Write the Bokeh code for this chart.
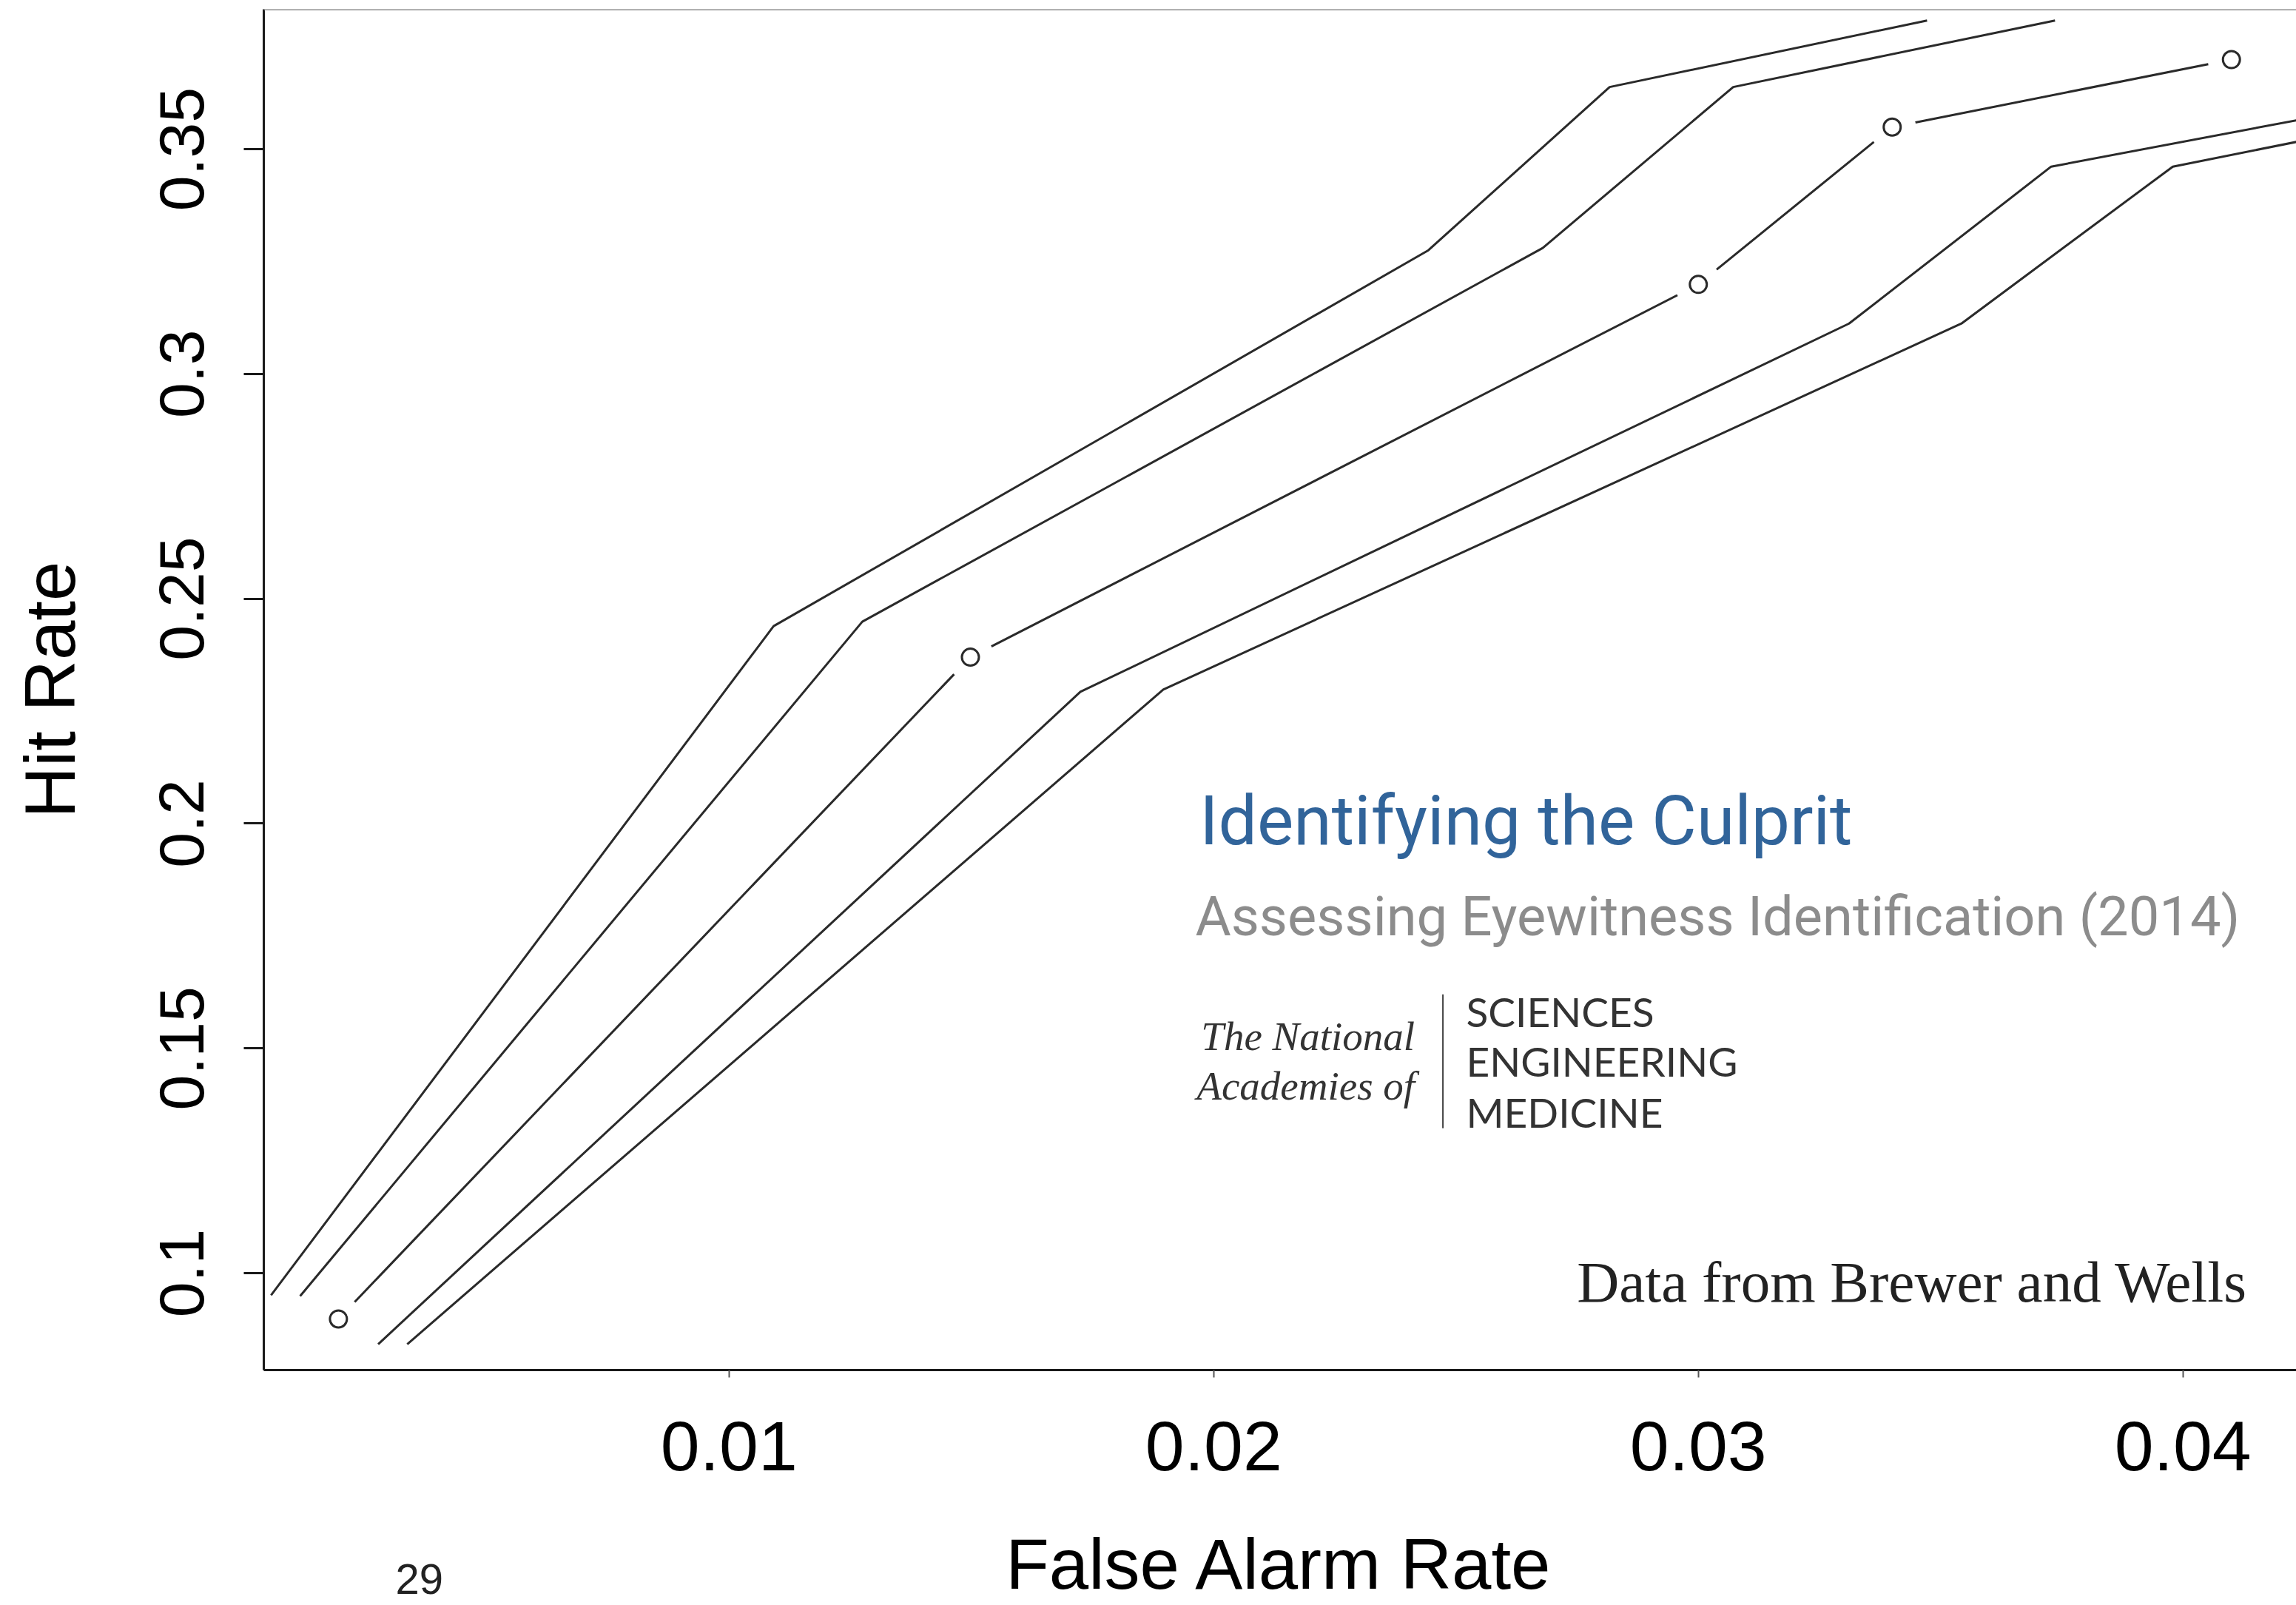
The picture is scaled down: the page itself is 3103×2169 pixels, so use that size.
import math
from bokeh.plotting import figure
from bokeh.models import Range1d, FixedTicker, Span, Label, Title
from bokeh.embed import file_html
from bokeh.resources import INLINE

# ---------------- data ----------------
upper_outer_x = [0.00055, 0.01092, 0.02443, 0.02817, 0.03472]
upper_outer_y = [0.0951, 0.2439, 0.3275, 0.3638, 0.3786]
upper_inner_x = [0.00115, 0.01275, 0.02679, 0.03072, 0.03736]
upper_inner_y = [0.0949, 0.2449, 0.3280, 0.3638, 0.3786]
roc_x = [0.00194, 0.01498, 0.0300, 0.0340, 0.0410]
roc_y = [0.0898, 0.2370, 0.3199, 0.3549, 0.3699]
lower_inner_x = [0.00276, 0.01725, 0.03311, 0.03728, 0.04234]
lower_inner_y = [0.0842, 0.2293, 0.3112, 0.3461, 0.3564]
lower_outer_x = [0.00336, 0.01896, 0.03543, 0.03979, 0.04234]
lower_outer_y = [0.0842, 0.2298, 0.3112, 0.3461, 0.3516]

x_ticks = [0.01, 0.02, 0.03, 0.04]
x_tick_labels = ["0.01", "0.02", "0.03", "0.04"]
y_ticks = [0.1, 0.15, 0.2, 0.25, 0.3, 0.35]
y_tick_labels = ["0.1", "0.15", "0.2", "0.25", "0.3", "0.35"]

x_title = "False Alarm Rate"
y_title = "Hit Rate"
page_number = "29"

# ---------------- figure ----------------
X0, X1 = 0.00040, 0.04234
Y0, Y1 = 0.07845, 0.3811

p = figure(width=3103, height=2169, output_backend="svg", toolbar_location=None,
           x_range=Range1d(X0, X1), y_range=Range1d(Y0, Y1),
           min_border_left=356, min_border_right=0, min_border_top=12,
           min_border_bottom=317)
p.grid.visible = False
p.outline_line_color = None
p.background_fill_color = "white"
p.border_fill_color = "white"

LINE = "#2a2a2a"

# top border of the box
p.add_layout(Span(location=Y1, dimension="width", line_color="#8a8a8a", line_width=3))

# x axis
xa = p.xaxis[0]
xa.ticker = FixedTicker(ticks=x_ticks)
xa.major_label_overrides = dict(zip(x_ticks, x_tick_labels))
xa.minor_tick_line_color = None
xa.major_tick_in = 0
xa.major_tick_out = 10
xa.major_tick_line_width = 2
xa.major_tick_line_color = "#555555"
xa.axis_line_width = 3
xa.axis_line_color = "#1a1a1a"
xa.major_label_text_font = "Liberation Sans"
xa.major_label_text_font_size = "95px"
xa.major_label_text_color = "black"
xa.major_label_standoff = 60
xa.axis_label = x_title
xa.axis_label_text_font = "Liberation Sans"
xa.axis_label_text_font_size = "96px"
xa.axis_label_text_font_style = "normal"
xa.axis_label_text_color = "black"
xa.axis_label_standoff = 70

# y axis
ya = p.yaxis[0]
ya.ticker = FixedTicker(ticks=y_ticks)
ya.major_label_overrides = dict(zip(y_ticks, y_tick_labels))
ya.minor_tick_line_color = None
ya.major_tick_in = 0
ya.major_tick_out = 27
ya.major_tick_line_width = 3
ya.major_tick_line_color = "#1a1a1a"
ya.axis_line_width = 3
ya.axis_line_color = "#1a1a1a"
ya.major_label_orientation = "parallel"
ya.major_label_text_font = "Liberation Sans"
ya.major_label_text_font_size = "86px"
ya.major_label_text_color = "black"
ya.major_label_standoff = 54
ya.axis_label = y_title
ya.axis_label_text_font = "Liberation Sans"
ya.axis_label_text_font_size = "96px"
ya.axis_label_text_font_style = "normal"
ya.axis_label_text_color = "black"
ya.axis_label_standoff = 93

# ---------------- curves ----------------
# central ROC line with open circles (lines broken around the points)
p.line(roc_x, roc_y, line_color=LINE, line_width=3)
p.scatter(roc_x, roc_y, marker="circle", size=64, fill_color="white", line_color=None)
p.scatter(roc_x, roc_y, marker="circle", size=23, fill_color="white",
          line_color=LINE, line_width=3)

for xs, ys in [(upper_outer_x, upper_outer_y), (upper_inner_x, upper_inner_y),
               (lower_inner_x, lower_inner_y), (lower_outer_x, lower_outer_y)]:
    p.line(xs, ys, line_color=LINE, line_width=3)

# ---------------- overlaid report banner ----------------
SANS = "Roboto"
p.add_layout(Label(x=0.01971, y=0.2005, text="Identifying the Culprit",
                   text_font=SANS, text_font_size="93px", text_color="#31649a",
                   text_baseline="alphabetic", text_align="left"))
p.add_layout(Label(x=0.01962, y=0.17928, text="Assessing Eyewitness Identification (2014)",
                   text_font=SANS, text_font_size="74px", text_color="#8c8c8c",
                   text_baseline="alphabetic", text_align="left"))
p.add_layout(Label(x=0.02415, y=0.15263, text="The National",
                   text_font="Liberation Serif", text_font_style="italic",
                   text_font_size="55px", text_color="#333333",
                   text_baseline="alphabetic", text_align="right"))
p.add_layout(Label(x=0.02415, y=0.14161, text="Academies of",
                   text_font="Liberation Serif", text_font_style="italic",
                   text_font_size="55px", text_color="#333333",
                   text_baseline="alphabetic", text_align="right"))
p.segment(x0=[0.02473], y0=[0.1620], x1=[0.02473], y1=[0.13224],
          line_color="#444444", line_width=2)
for txt, yy in [("SCIENCES", 0.15822), ("ENGINEERING", 0.14720), ("MEDICINE", 0.13586)]:
    p.add_layout(Label(x=0.02521, y=yy, text=txt, text_font="Lato",
                       text_font_size="55px", text_color="#333333",
                       text_baseline="alphabetic", text_align="left"))
p.add_layout(Label(x=0.04133, y=0.09803, text="Data from Brewer and Wells",
                   text_font="Liberation Serif", text_font_size="79px",
                   text_color="#222222", text_baseline="alphabetic", text_align="right"))

# page number, below the x axis (a title in the bottom panel is not clipped to the frame;
# a negative standoff keeps it from taking extra room in the layout)
try:
    page_title = Title(text=page_number, align="left", offset=178, standoff=-112,
                       vertical_align="top", text_font="Liberation Sans",
                       text_font_size="58px", text_font_style="normal",
                       text_color="#222222")
    p.add_layout(page_title, "below")
except Exception:
    pass

open("out.html", "w").write(file_html(p, INLINE))
